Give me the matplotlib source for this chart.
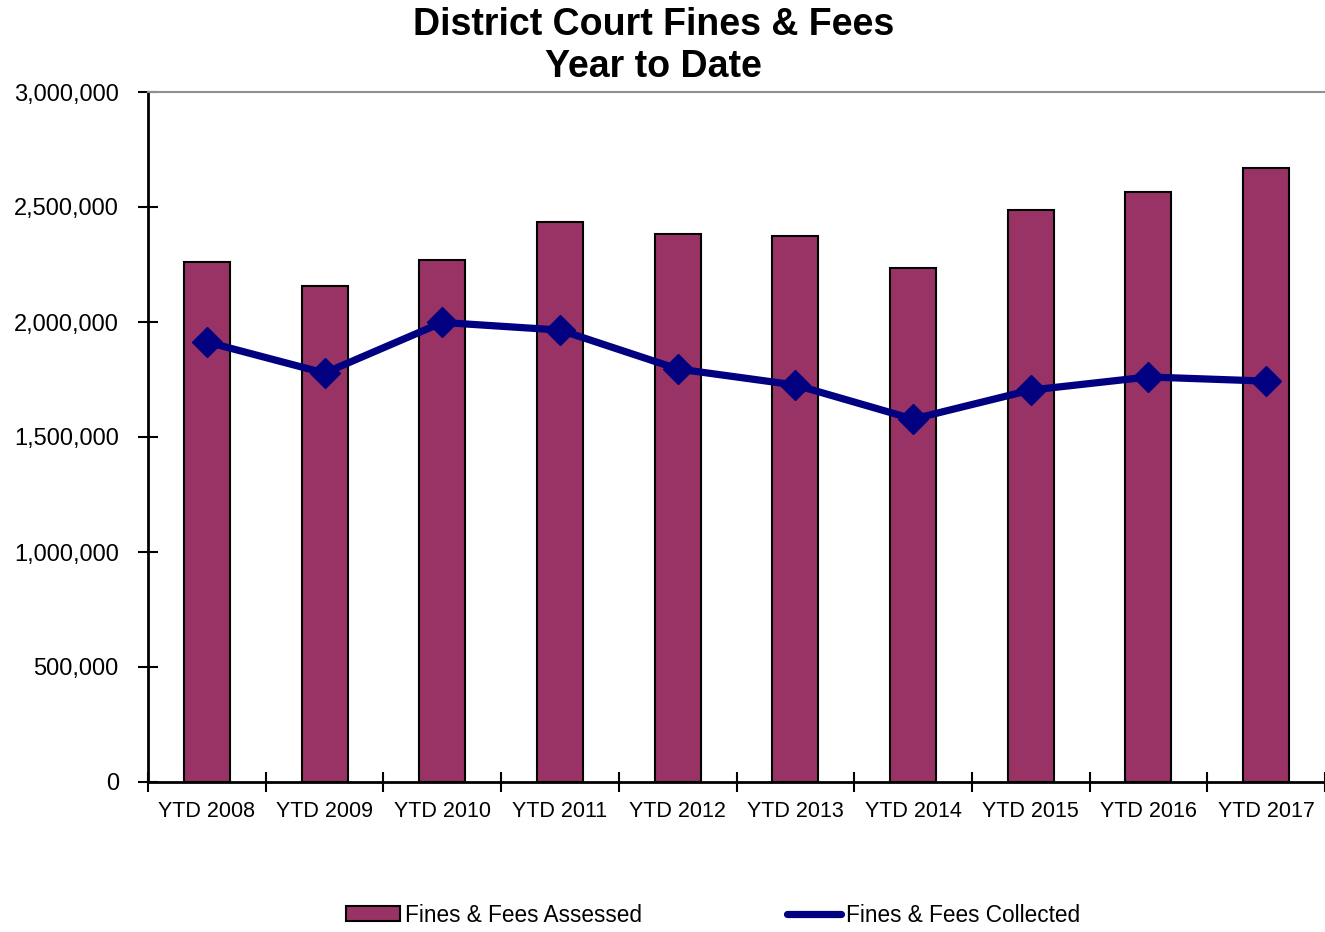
import matplotlib.pyplot as plt
import numpy as np
from matplotlib.ticker import FuncFormatter
from matplotlib.lines import Line2D

plt.rcParams['font.family'] = ['Liberation Sans', 'DejaVu Sans']

years = ['YTD 2008', 'YTD 2009', 'YTD 2010', 'YTD 2011', 'YTD 2012',
         'YTD 2013', 'YTD 2014', 'YTD 2015', 'YTD 2016', 'YTD 2017']
assessed = [2261000, 2157000, 2270000, 2435000, 2383000,
            2374000, 2235000, 2487000, 2565000, 2670000]
collected = [1913000, 1778000, 1998000, 1965000, 1796000,
             1726000, 1578000, 1704000, 1761000, 1743000]

fig = plt.figure(figsize=(13.25, 9.32), dpi=100)
ax = fig.add_axes([148 / 1325, 1 - 782 / 932, 1 - 148 / 1325, (782 - 92) / 932])

x = np.arange(len(years))
bars = ax.bar(x, assessed, width=0.39, color='#993366', edgecolor='black', linewidth=1.5,
              label='Fines & Fees Assessed', zorder=2)
ax.plot(x, collected, color='#000080', linewidth=5.2, marker='D', markersize=15,
        zorder=3)

ax.set_xlim(-0.5, len(years) - 0.5)
ax.set_ylim(0, 3000000)
ax.set_yticks(np.arange(0, 3000001, 500000))
ax.yaxis.set_major_formatter(FuncFormatter(lambda v, p: f'{int(v):,}'))
ax.tick_params(axis='y', direction='inout', length=14, width=1.5, labelsize=17, pad=14)

# category boundaries as ticks, labels centred between them
ax.set_xticks(np.arange(-0.5, len(years), 1.0))
ax.set_xticklabels([])
ax.set_xticks(x, minor=True)
ax.set_xticklabels(years, minor=True, fontsize=15.5)
ax.tick_params(axis='x', which='major', direction='inout', length=14, width=1.5)
ax.tick_params(axis='x', which='minor', length=0, pad=14)

for s in ['left', 'bottom']:
    ax.spines[s].set_linewidth(2)
ax.spines['top'].set_color('#909090')
ax.spines['top'].set_linewidth(1.5)
ax.spines['right'].set_visible(False)

fig.text(0.493, 0.992, 'District Court Fines & Fees\nYear to Date', ha='center', va='top',
         fontsize=27, fontweight='bold', linespacing=1.2)

line_handle = Line2D([], [], color='#000080', linewidth=5.2, solid_capstyle='round')
fig.legend([bars, line_handle], ['Fines & Fees Assessed', 'Fines & Fees Collected'],
           loc='center', bbox_to_anchor=(0.538, 1 - 915 / 932), ncol=2, frameon=False,
           fontsize=16.3, columnspacing=6.4, handlelength=2.4, handletextpad=0.2,
           handleheight=0.6)

fig.savefig('out.png', dpi=100)
